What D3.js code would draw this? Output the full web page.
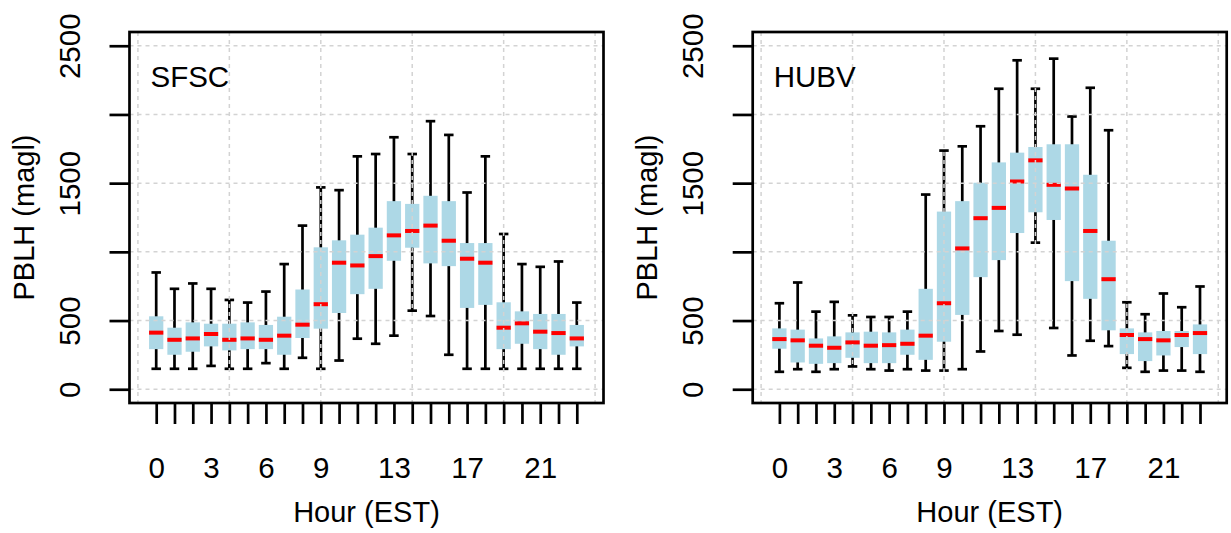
<!DOCTYPE html>
<html>
<head>
<meta charset="utf-8">
<script src="https://cdn.jsdelivr.net/npm/d3@7"></script>
<style>
body{margin:0;background:#fff;}
svg text{font-family:"Liberation Sans",Arial,Helvetica,sans-serif;fill:#000;}
</style>
</head>
<body>
<svg width="1231" height="533"></svg>
<script>

//hours of the day (EST), one box per hour
var hours = [0,1,2,3,4,5,6,7,8,9,10,11,12,13,14,15,16,17,18,19,20,21,22,23];
var xTickHours = [0,3,6,9,13,17,21];
var yTicks = [0,500,1000,1500,2000,2500];
var yTickLabels = ["0","500","","1500","","2500"];

//SFSC boxplot stats (magl)
var sfscLow  = [149,149,149,170,149,149,190,149,229,149,209,368,331,390,572,533,251,149,149,149,149,149,149,149];
var sfscQ1   = [292,251,273,312,283,292,292,251,373,441,555,692,731,935,1030,916,896,592,614,292,331,292,251,312];
var sfscMed  = [412,360,370,402,360,370,360,390,470,619,921,901,969,1120,1152,1191,1081,950,921,448,480,419,409,370];
var sfscQ3   = [531,448,487,477,477,487,468,528,726,1033,1084,1125,1176,1369,1349,1408,1369,1064,1064,633,567,548,548,468];
var sfscHigh = [850,731,770,731,650,631,711,911,1191,1469,1449,1695,1712,1834,1712,1951,1851,1432,1695,1130,911,891,930,631];

//HUBV boxplot stats (magl)
var hubvLow  = [127,146,127,146,166,146,136,146,136,136,146,275,424,397,1067,446,246,353,314,156,127,136,136,127];
var hubvQ1   = [295,195,185,190,229,190,190,251,214,346,541,816,940,1137,1288,1232,787,658,429,256,205,246,307,256];
var hubvMed  = [365,356,317,302,341,317,321,331,390,626,1025,1245,1320,1512,1666,1488,1461,1152,801,395,365,356,395,409];
var hubvQ3   = [443,434,370,385,414,419,414,434,731,1293,1369,1503,1651,1722,1763,1783,1783,1561,1081,443,414,424,424,472];
var hubvHigh = [626,777,565,636,538,526,526,565,1417,1737,1768,1914,2187,2394,2187,2406,1985,2194,1885,633,546,697,597,748];

var makeTranslateString = function(x,y)
{
    return "translate("+x+","+y+")";
}

var makeStats = function(low,q1,med,q3,high)
{
    return hours.map(function(h,i)
    {
        return {hour:h,low:low[i],q1:q1[i],med:med[i],q3:q3[i],high:high[i]};
    });
}

//draws one panel; left is the x of the plot frame
var drawPanel = function(svg,left,name,stats)
{
    var graph = {width:474,height:371};
    var top = 32;
    var lw = 2.7;

    //R style 4% padding around 0.5..24.5 and 0..2500
    var xScale = d3.scaleLinear()
        .domain([-1.46,24.46])
        .range([0,graph.width]);
    var yScale = d3.scaleLinear()
        .domain([-100,2600])
        .range([graph.height,0]);

    var step = xScale(1)-xScale(0);
    var boxW = step*0.78;
    var capW = 9.5;

    var target = svg.append("g")
        .attr("transform",makeTranslateString(left,top));

    var boxes = target.selectAll("g.box")
        .data(stats)
        .enter()
        .append("g")
        .classed("box",true)
        .attr("transform",function(d){return makeTranslateString(xScale(d.hour),0);});

    //whiskers
    boxes.append("line")
        .attr("x1",0).attr("x2",0)
        .attr("y1",function(d){return yScale(d.high);})
        .attr("y2",function(d){return yScale(d.low);})
        .attr("stroke","black")
        .attr("stroke-width",lw);
    boxes.append("line")
        .attr("x1",-capW/2).attr("x2",capW/2)
        .attr("y1",function(d){return yScale(d.high);})
        .attr("y2",function(d){return yScale(d.high);})
        .attr("stroke","black")
        .attr("stroke-width",lw);
    boxes.append("line")
        .attr("x1",-capW/2).attr("x2",capW/2)
        .attr("y1",function(d){return yScale(d.low);})
        .attr("y2",function(d){return yScale(d.low);})
        .attr("stroke","black")
        .attr("stroke-width",lw);

    boxes.append("rect")
        .attr("x",-boxW/2)
        .attr("width",boxW)
        .attr("y",function(d){return yScale(d.q3);})
        .attr("height",function(d){return yScale(d.q1)-yScale(d.q3);})
        .attr("fill","#add8e6");

    boxes.append("line")
        .attr("x1",-boxW/2).attr("x2",boxW/2)
        .attr("y1",function(d){return yScale(d.med);})
        .attr("y2",function(d){return yScale(d.med);})
        .attr("stroke","#ff0000")
        .attr("stroke-width",4);

    //grid on top, like grid() after boxplot
    var grid = target.append("g");
    grid.selectAll("line.v")
        .data([-1,4,9,14,19,24])
        .enter()
        .append("line")
        .attr("x1",function(d){return xScale(d);})
        .attr("x2",function(d){return xScale(d);})
        .attr("y1",0).attr("y2",graph.height);
    grid.selectAll("line.h")
        .data(yTicks)
        .enter()
        .append("line")
        .attr("y1",function(d){return yScale(d);})
        .attr("y2",function(d){return yScale(d);})
        .attr("x1",0).attr("x2",graph.width);
    grid.selectAll("line")
        .attr("stroke","#d3d3d3")
        .attr("stroke-width",1.5)
        .attr("stroke-dasharray","4,4");

    //frame
    target.append("rect")
        .attr("width",graph.width)
        .attr("height",graph.height)
        .attr("fill","none")
        .attr("stroke","black")
        .attr("stroke-width",lw);

    //axes
    var xAxis = d3.axisBottom(xScale)
        .tickValues(hours)
        .tickSize(21)
        .tickSizeOuter(0)
        .tickFormat(function(h){return xTickHours.indexOf(h)>=0 ? h : "";});
    var yAxis = d3.axisLeft(yScale)
        .tickValues(yTicks)
        .tickSize(20)
        .tickSizeOuter(0)
        .tickFormat(function(v,i){return yTickLabels[i];});

    var xg = target.append("g")
        .attr("transform",makeTranslateString(0,graph.height))
        .call(xAxis);
    xg.select(".domain").remove();
    xg.selectAll("line").attr("stroke-width",lw);
    xg.selectAll("text")
        .attr("y",75)
        .attr("dy",0)
        .attr("font-size",29.5)
        .attr("font-family",null);

    var yg = target.append("g")
        .call(yAxis);
    yg.select(".domain").remove();
    yg.selectAll("line").attr("stroke-width",lw);
    yg.selectAll("text")
        .attr("x",0)
        .attr("dy",0)
        .attr("text-anchor","middle")
        .attr("transform","translate(-50,0) rotate(-90)")
        .attr("font-size",29.5)
        .attr("font-family",null);

    //labels
    target.append("text")
        .text(name)
        .attr("x",21)
        .attr("y",55)
        .attr("font-size",29.5);

    target.append("text")
        .text("Hour (EST)")
        .attr("text-anchor","middle")
        .attr("x",graph.width/2)
        .attr("y",490)
        .attr("font-size",29);

    target.append("g")
        .attr("transform",makeTranslateString(-96,graph.height/2))
        .append("text")
        .text("PBLH (magl)")
        .attr("text-anchor","middle")
        .attr("transform","rotate(-90)")
        .attr("font-size",29);
}

var svg = d3.select("svg");
drawPanel(svg,129.5,"SFSC",makeStats(sfscLow,sfscQ1,sfscMed,sfscQ3,sfscHigh));
drawPanel(svg,752.7,"HUBV",makeStats(hubvLow,hubvQ1,hubvMed,hubvQ3,hubvHigh));

</script>
</body>
</html>
